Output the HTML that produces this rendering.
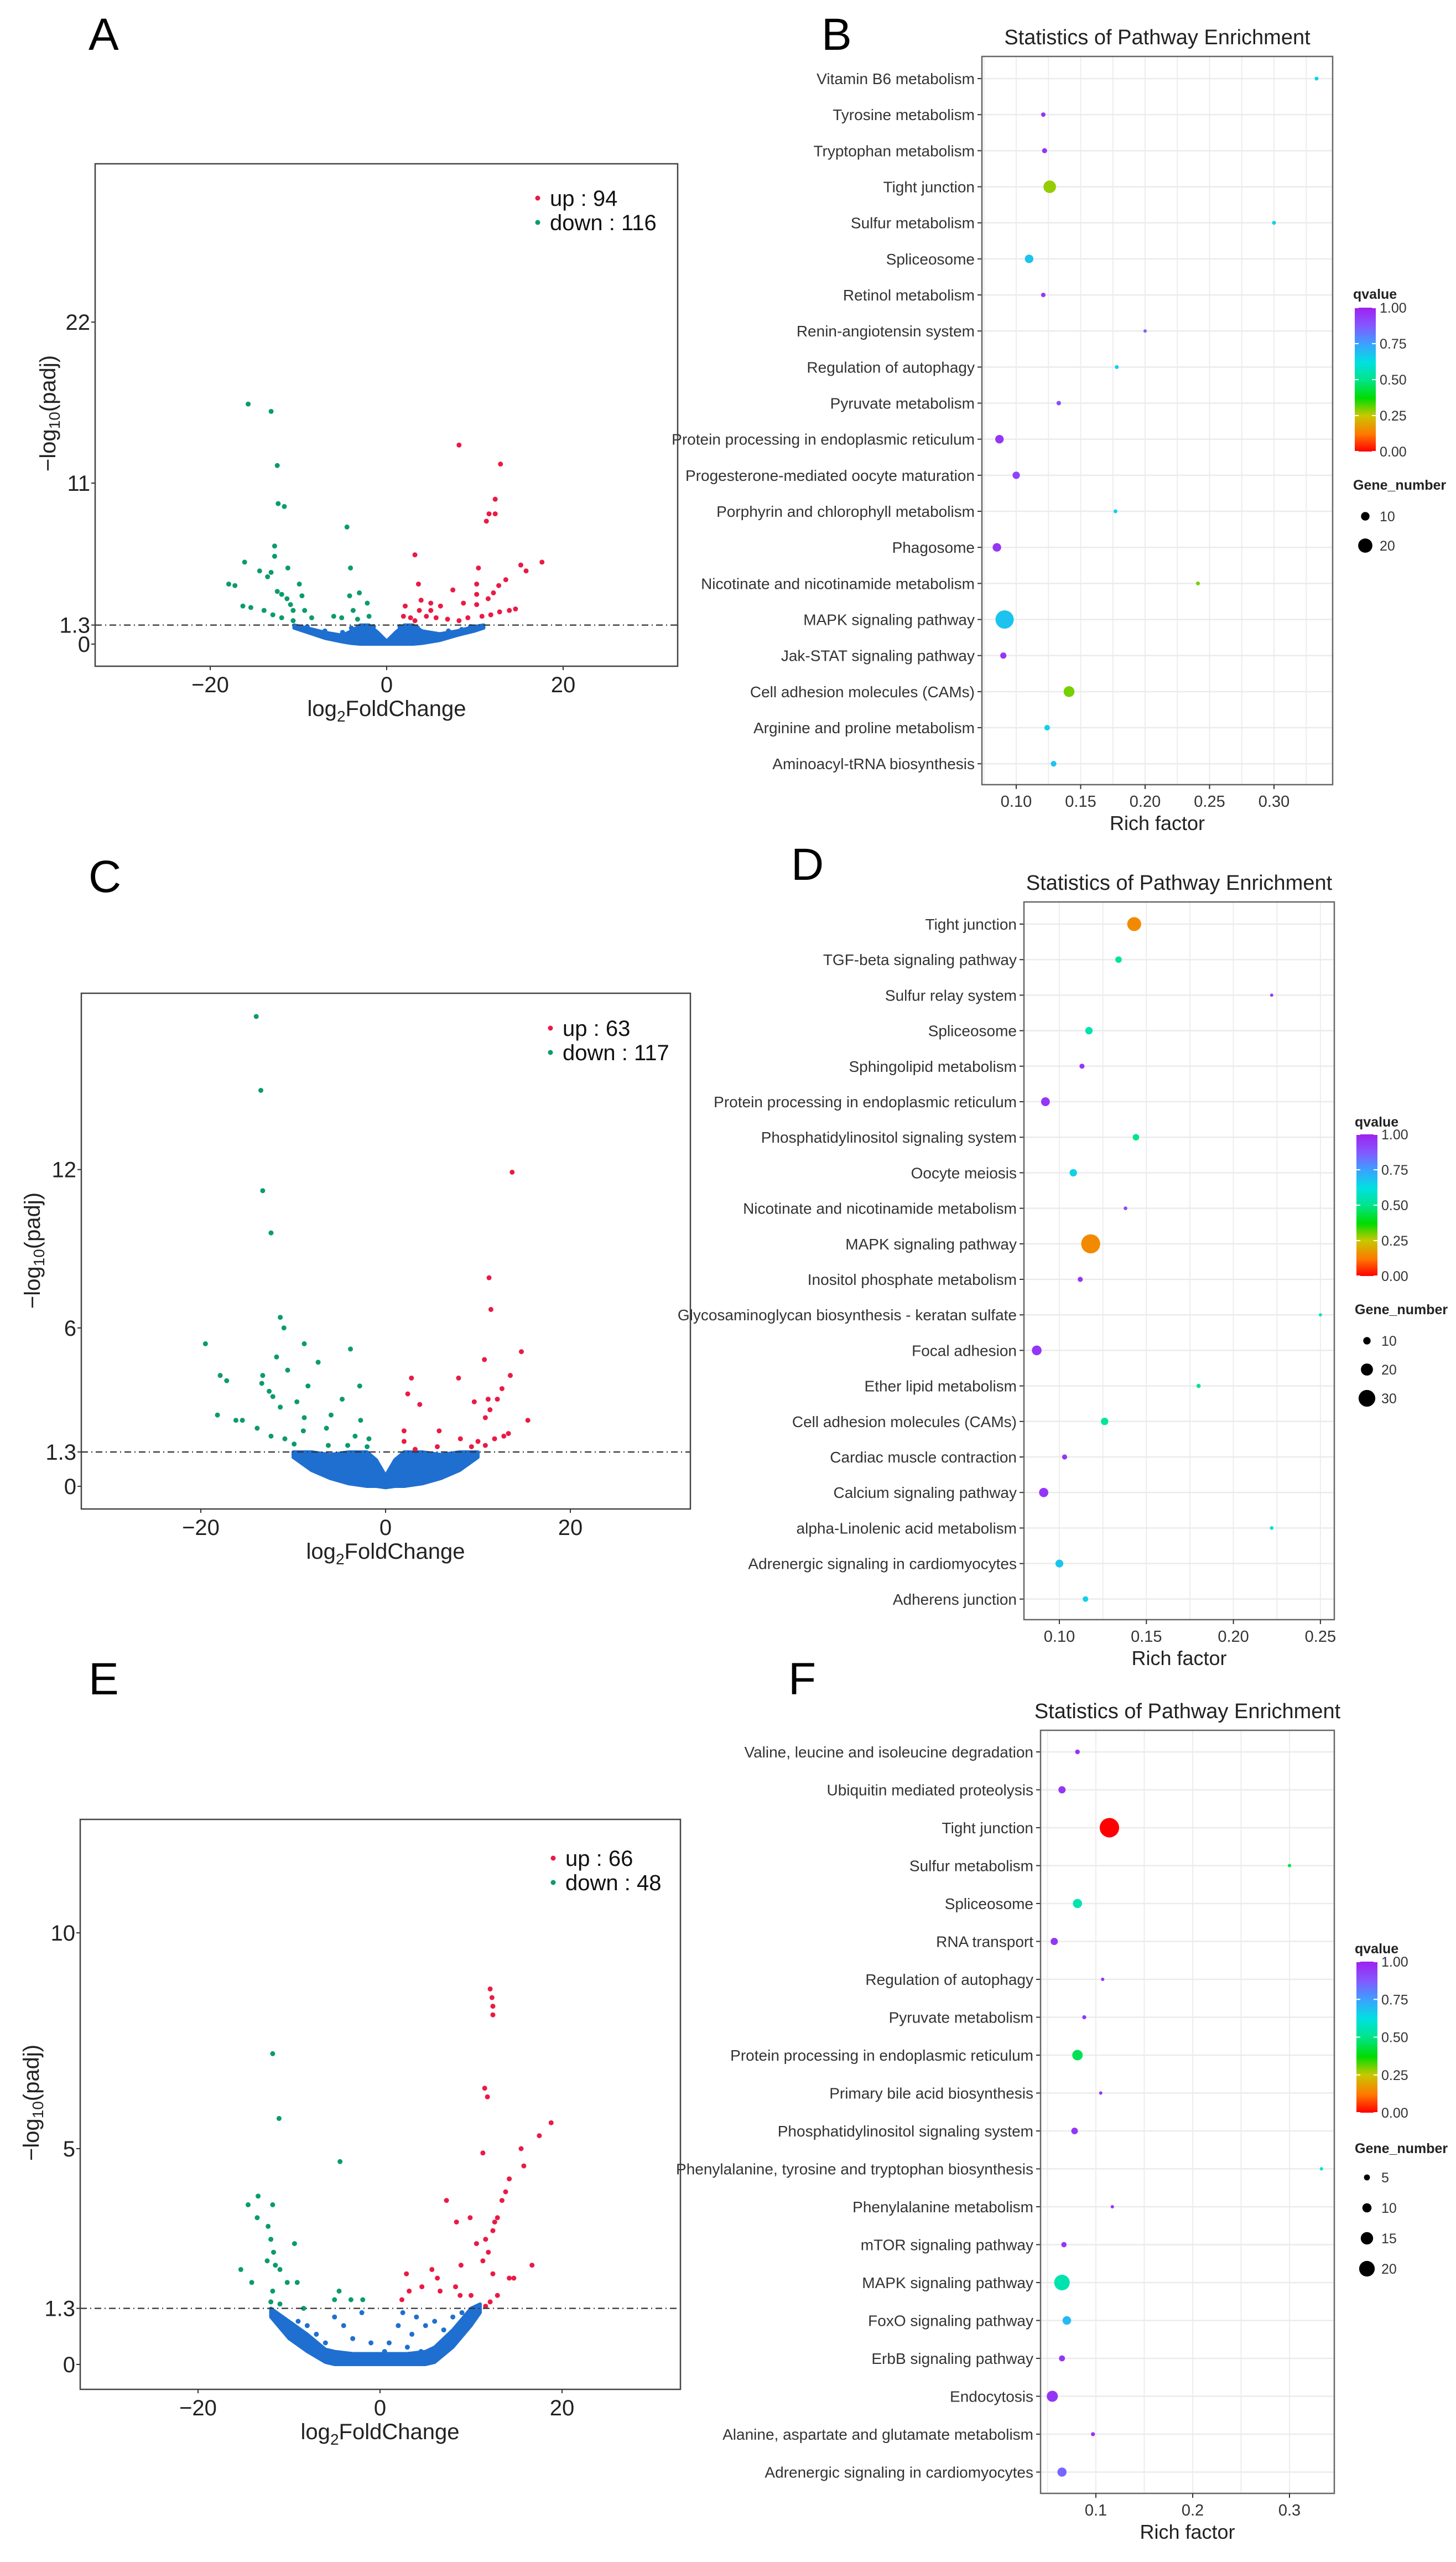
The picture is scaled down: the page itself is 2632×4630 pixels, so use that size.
<!DOCTYPE html>
<html><head><meta charset="utf-8">
<style>
html,body{margin:0;padding:0;background:#fff;}
svg{display:block;font-family:"Liberation Sans",Arial,sans-serif;}
</style></head>
<body>
<svg id="fig" width="2632" height="4630" viewBox="0 0 2632 4630" xmlns="http://www.w3.org/2000/svg">
<rect width="2632" height="4630" fill="#fff"/>
<g id="root"></g>
</svg>
<script>
// ---------------- Volcano data ----------------
const aUpX=[8.2,12.9,12.3,11.6,12.3,11.3,3.2,15.2,15.8,17.6,10.4,10.2,3.6,7.5,13.5,12.7,12.1,11.5,10.2,10.2,8.7,6.1,5.0,3.9,2.1,1.9,2.7,3.7,5.0,5.6,6.9,8.2,9.2,10.8,11.8,12.8,13.9,14.6,3.2,4.5];
const aUpY=[13.6,12.3,9.9,8.9,8.9,8.4,6.1,5.4,5.0,5.6,5.2,4.1,4.1,3.7,4.4,4.0,3.5,3.1,3.4,2.7,2.8,2.6,2.8,3.0,2.6,1.9,1.8,2.3,2.3,1.8,1.7,1.6,1.8,1.9,2.0,2.2,2.3,2.4,1.6,1.9];
const aDownX=[-15.7,-13.1,-12.4,-12.3,-11.6,-4.5,-12.7,-12.7,-16.1,-11.2,-14.4,-13.1,-13.5,-4.1,-17.9,-17.2,-9.9,-16.3,-15.4,-12.4,-11.9,-11.3,-10.9,-10.6,-9.6,-9.3,-8.5,-13.9,-12.9,-11.9,-10.6,-4.2,-3.1,-2.2,-3.8,-3.3,-6.0,-5.1,-2.0];
const aDownY=[16.4,15.9,12.2,9.6,9.4,8.0,6.7,6.0,5.6,5.2,5.0,4.9,4.6,5.2,4.1,4.0,4.1,2.6,2.5,3.6,3.4,3.1,2.7,2.3,3.3,2.3,1.8,2.3,2.0,1.8,1.6,3.3,3.5,2.8,2.3,1.7,1.9,1.8,1.9];
const aNsX=[-9,-7,-6,-5,-4,-3,-2.5,-1.5,1.5,2.5,3.5,4.5,6,7,8.5,9.5];
const aNsY=[1.2,0.9,0.6,0.8,1.1,1.2,0.9,1.2,1.2,0.9,1.1,0.7,0.6,0.9,1.0,1.2];
const aEnvX=[-10.5,-9,-7,-5,-4,-3,-2,-1,0,1,2,3,4,6,8,10,11];
const aEnvTop=[1.3,1.1,0.8,0.6,0.9,1.3,1.3,0.8,0.2,0.8,1.3,1.3,0.9,0.7,0.9,1.2,1.3];
const aEnvBot=[1.1,0.8,0.4,0.15,0.05,0,0,0,0,0,0,0,0.05,0.25,0.6,0.9,1.1];
const aYTicks=[0,1.3,11,22];
const aXTicks=[-20,0,20];

const cUpX=[13.7,11.2,11.4,10.7,14.7,13.5,7.9,2.8,2.4,3.7,12.6,12.1,11.1,9.6,10.8,11.3,15.4,2.0,5.8,8.1,10.0,11.8,12.8,2.0,3.2,5.6,9.3,10.8,13.3];
const cUpY=[11.9,7.9,6.7,4.8,5.1,4.2,4.1,4.1,3.5,3.1,3.7,3.3,3.3,3.2,2.6,2.9,2.5,2.1,2.1,1.8,1.7,1.8,1.9,1.7,1.4,1.5,1.5,1.55,2.0];
const cDownX=[-14.0,-13.5,-13.3,-12.4,-11.4,-11.0,-19.5,-8.8,-7.3,-3.8,-11.8,-17.9,-17.2,-13.3,-10.6,-13.4,-2.8,-8.4,-12.6,-12.2,-9.6,-4.7,-18.2,-16.2,-15.5,-11.4,-8.8,-5.9,-2.7,-13.9,-12.4,-10.9,-8.9,-6.4,-3.3,-1.8,-9.9,-6.2,-4.1,-2.0];
const cDownY=[17.8,15.0,11.2,9.6,6.4,6.0,5.4,5.4,4.7,5.2,4.9,4.2,4.0,4.2,4.4,3.9,3.8,3.8,3.6,3.4,3.2,3.3,2.7,2.5,2.5,3.0,2.6,2.7,2.5,2.2,1.9,1.8,2.1,2.2,1.9,1.8,1.6,1.55,1.55,1.5];
const cNsX=[-9,-7,-5.5,-4,-3,-2,2,3,4.5,6,7.5,9];
const cNsY=[1.1,0.8,0.6,0.9,0.7,1.1,1.0,0.8,0.9,0.6,0.9,1.1];
const cEnvX=[-10,-8,-6,-4,-3,-2,-1,0,1,2,3,4,6,8,10];
const cEnvTop=[1.3,1.3,1.2,1.3,1.3,1.3,1.0,0.4,1.0,1.3,1.3,1.3,1.2,1.3,1.3];
const cEnvBot=[1.1,0.6,0.3,0.1,0.05,0,0,-0.05,0,0,0.05,0.1,0.3,0.6,1.1];
const cYTicks=[0,1.3,6,12];
const cXTicks=[-20,0,20];

const eUpX=[12.1,12.3,12.4,12.4,11.5,11.8,18.8,17.5,15.5,11.3,15.8,14.2,13.8,7.3,13.4,12.9,12.6,8.4,9.9,12.4,10.6,11.6,11.9,11.3,8.9,16.7,14.7,14.2,12.4,2.9,5.7,6.3,4.6,3.2,2.4,6.6,8.3,8.8,10.0,12.9,12.1,11.6];
const eUpY=[8.7,8.5,8.3,8.1,6.4,6.2,5.6,5.3,5.0,4.9,4.6,4.3,4.0,3.8,3.8,3.4,3.3,3.3,3.4,3.1,2.8,2.9,2.6,2.4,2.3,2.3,2.0,2.0,2.1,2.1,2.2,2.0,1.8,1.7,1.5,1.7,1.8,1.6,1.6,1.6,1.45,1.35];
const eDownX=[-11.8,-11.1,-4.4,-13.4,-14.5,-11.8,-13.5,-12.3,-12.0,-9.4,-11.7,-11.5,-12.4,-11.0,-15.3,-14.1,-10.2,-9.1,-11.8,-4.5,-5.0,-3.2,-1.9,-12.0,-11.0,-8.4];
const eDownY=[7.2,5.7,4.7,3.9,3.7,3.7,3.4,3.2,2.9,2.8,2.6,2.3,2.4,2.2,2.2,1.9,1.9,1.9,1.7,1.7,1.5,1.5,1.5,1.45,1.4,1.3];
const eNsX=[-9,-7,-4,-3,-2,-1,1,2,2.5,3.5,4,5,6,7,8,9,-6,4.5,-8,-5,0.5,3];
const eNsY=[1.0,0.7,0.9,0.6,1.2,0.5,0.5,0.9,1.2,0.7,1.1,0.9,1.0,0.8,1.1,1.2,0.5,0.3,0.9,1.1,0.3,0.4];
const eEnvX=[-12,-10,-8,-6,-5,-3,0,3,5,6,8,10,11];
const eEnvTop=[1.3,1.0,0.7,0.35,0.3,0.25,0.25,0.25,0.3,0.4,0.8,1.3,1.4];
const eEnvBot=[1.1,0.6,0.3,0.05,0,0,0,0,0,0.05,0.4,0.9,1.2];
const eYTicks=[0,1.3,5,10];
const eXTicks=[-20,0,20];

// ---------------- Pathway data ----------------
const bTerms=["Vitamin B6 metabolism","Tyrosine metabolism","Tryptophan metabolism","Tight junction","Sulfur metabolism","Spliceosome","Retinol metabolism","Renin-angiotensin system","Regulation of autophagy","Pyruvate metabolism","Protein processing in endoplasmic reticulum","Progesterone-mediated oocyte maturation","Porphyrin and chlorophyll metabolism","Phagosome","Nicotinate and nicotinamide metabolism","MAPK signaling pathway","Jak-STAT signaling pathway","Cell adhesion molecules (CAMs)","Arginine and proline metabolism","Aminoacyl-tRNA biosynthesis"];
const bRich=[0.333,0.121,0.122,0.126,0.300,0.110,0.121,0.200,0.178,0.133,0.087,0.100,0.177,0.085,0.241,0.091,0.090,0.141,0.124,0.129];
const bQ=[0.65,0.95,0.95,0.28,0.65,0.68,0.95,0.85,0.65,0.9,0.95,0.92,0.65,0.95,0.3,0.68,0.95,0.3,0.65,0.68];
const bGenes=[2,3,4,17,2,10,3,1,2,3,10,8,2,10,2,27,6,14,5,5];
const bTickVals=[0.10,0.15,0.20,0.25,0.30];
const bTickLabels=["0.10","0.15","0.20","0.25","0.30"];
const bSizeLegend=[10,20];

const dTerms=["Tight junction","TGF-beta signaling pathway","Sulfur relay system","Spliceosome","Sphingolipid metabolism","Protein processing in endoplasmic reticulum","Phosphatidylinositol signaling system","Oocyte meiosis","Nicotinate and nicotinamide metabolism","MAPK signaling pathway","Inositol phosphate metabolism","Glycosaminoglycan biosynthesis - keratan sulfate","Focal adhesion","Ether lipid metabolism","Cell adhesion molecules (CAMs)","Cardiac muscle contraction","Calcium signaling pathway","alpha-Linolenic acid metabolism","Adrenergic signaling in cardiomyocytes","Adherens junction"];
const dRich=[0.143,0.134,0.222,0.117,0.113,0.092,0.144,0.108,0.138,0.118,0.112,0.250,0.087,0.180,0.126,0.103,0.091,0.222,0.100,0.115];
const dQ=[0.15,0.52,0.95,0.55,0.95,0.95,0.5,0.65,0.9,0.15,0.95,0.55,0.95,0.5,0.52,0.95,0.95,0.6,0.68,0.65];
const dGenes=[24,8,1,10,5,13,8,10,2,35,5,1,15,3,10,5,14,2,11,6];
const dTickVals=[0.10,0.15,0.20,0.25];
const dTickLabels=["0.10","0.15","0.20","0.25"];
const dSizeLegend=[10,20,30];

const fTerms=["Valine, leucine and isoleucine degradation","Ubiquitin mediated proteolysis","Tight junction","Sulfur metabolism","Spliceosome","RNA transport","Regulation of autophagy","Pyruvate metabolism","Protein processing in endoplasmic reticulum","Primary bile acid biosynthesis","Phosphatidylinositol signaling system","Phenylalanine, tyrosine and tryptophan biosynthesis","Phenylalanine metabolism","mTOR signaling pathway","MAPK signaling pathway","FoxO signaling pathway","ErbB signaling pathway","Endocytosis","Alanine, aspartate and glutamate metabolism","Adrenergic signaling in cardiomyocytes"];
const fRich=[0.081,0.065,0.114,0.300,0.081,0.057,0.107,0.088,0.081,0.105,0.078,0.333,0.117,0.067,0.065,0.070,0.065,0.055,0.097,0.065];
const fQ=[0.95,0.95,0.0,0.45,0.55,0.95,0.95,0.95,0.45,0.95,0.95,0.6,0.95,0.95,0.55,0.7,0.95,0.95,0.95,0.85];
const fGenes=[3,7,26,1,10,7,1,2,12,1,6,1,1,4,20,9,5,13,2,10];
const fTickVals=[0.1,0.2,0.3];
const fTickLabels=["0.1","0.2","0.3"];
const fSizeLegend=[5,10,15,20];

const qLegendLabels=["1.00","0.75","0.50","0.25","0.00"];
const qLegendVals=[1,0.75,0.5,0.25,0];

// ---------------- helpers ----------------
const NS="http://www.w3.org/2000/svg";
const root=document.getElementById('root');
function mk(tag,attrs,parent){const e=document.createElementNS(NS,tag);for(const k in attrs)e.setAttribute(k,attrs[k]);(parent||root).appendChild(e);return e;}
function txt(str,attrs,parent){const e=mk('text',attrs,parent);e.textContent=str;return e;}
const qStops=[[0,[255,0,0]],[0.12,[255,120,0]],[0.25,[200,200,0]],[0.37,[0,220,0]],[0.5,[0,228,140]],[0.62,[0,225,225]],[0.75,[60,160,255]],[0.87,[130,90,255]],[1,[160,32,240]]];
function qColor(q){for(let i=1;i<qStops.length;i++){if(q<=qStops[i][0]){const a=qStops[i-1],b=qStops[i];const t=(q-a[0])/(b[0]-a[0]);const c=a[1].map((v,j)=>Math.round(v+(b[1][j]-v)*t));return `rgb(${c[0]},${c[1]},${c[2]})`;}}return 'rgb(160,32,240)';}

// panel letters
[["A",160,90],["B",1485,90],["C",160,1612],["D",1430,1590],["E",160,3062],["F",1425,3062]].forEach(p=>{
  const t=txt(p[0],{x:p[1],y:p[2],'font-size':82,fill:'#000'});
  
  
});

// ---------------- volcano ----------------
function volcano(id,cfg,upX,upY,downX,downY,nsX,nsY,envX,envTop,envBot,yTicks,xTicks,upN,downN){
  const g=mk('g',{});
  
  
  const X=v=>cfg.x0+v*cfg.sx, Y=v=>cfg.y0-v*cfg.sy;
  const [L,T,R,B]=cfg.box;
  const clipId='clip'+id;
  const cp=mk('clipPath',{id:clipId},g);mk('rect',{x:L,y:T,width:R-L,height:B-T},cp);
  const pg=mk('g',{'clip-path':`url(#${clipId})`},g);
  let pts=envX.map((x,i)=>X(x)+','+Y(envTop[i]));
  for(let i=envX.length-1;i>=0;i--)pts.push(X(envX[i])+','+Y(envBot[i]));
  const poly=mk('polygon',{points:pts.join(' '),fill:'#1f6fd1',stroke:'#1f6fd1','stroke-width':6,'stroke-linejoin':'round'},pg);
  
  
  nsX.forEach((x,i)=>{const c=mk('circle',{cx:X(x),cy:Y(nsY[i]),r:4.5,fill:'#1f6fd1'},pg);
    
    });
  downX.forEach((x,i)=>{const c=mk('circle',{cx:X(x),cy:Y(downY[i]),r:4.5,fill:'#0a9b6e'},pg);
    
    });
  upX.forEach((x,i)=>{const c=mk('circle',{cx:X(x),cy:Y(upY[i]),r:4.5,fill:'#ea1a44'},pg);
    
    });
  const th=mk('line',{x1:L,x2:R,y1:Y(1.3),y2:Y(1.3),stroke:'#333','stroke-width':2.2,'stroke-dasharray':'12,6,2,6'},g);
  
  
  const box=mk('rect',{x:L,y:T,width:R-L,height:B-T,fill:'none',stroke:'#444','stroke-width':2.5},g);
  
  
  yTicks.forEach(v=>{mk('line',{x1:L-7,x2:L,y1:Y(v),y2:Y(v),stroke:'#333','stroke-width':2},g);
    const t=txt(String(v),{x:L-9,y:Y(v)+14,'text-anchor':'end','font-size':40,fill:'#222'},g);
    
    });
  xTicks.forEach(v=>{mk('line',{x1:X(v),x2:X(v),y1:B,y2:B+7,stroke:'#333','stroke-width':2},g);
    const t=txt(v<0?'\u2212'+Math.abs(v):String(v),{x:X(v),y:B+47,'text-anchor':'middle','font-size':40,fill:'#222'},g);
    
    });
  const xl=txt('',{x:X(0),y:B+90,'text-anchor':'middle','font-size':40,fill:'#222'},g);
  
  
  xl.innerHTML='log<tspan font-size="28" dy="10">2</tspan><tspan dy="-10">FoldChange</tspan>';
  const yl=txt('',{transform:`translate(${cfg.ytx},${cfg.yty}) rotate(-90)`,'text-anchor':'middle','font-size':40,fill:'#222'},g);
  
  
  yl.innerHTML='\u2212log<tspan font-size="28" dy="8">10</tspan><tspan dy="-8">(padj)</tspan>';
  const lg=mk('g',{},g);
  
  
  mk('circle',{cx:cfg.lx,cy:cfg.ly,r:4.5,fill:'#ea1a44'},lg);
  txt('up : '+upN,{x:cfg.lx+22,y:cfg.ly+14,'font-size':40,fill:'#111'},lg);
  mk('circle',{cx:cfg.lx,cy:cfg.ly+44,r:4.5,fill:'#0a9b6e'},lg);
  txt('down : '+downN,{x:cfg.lx+22,y:cfg.ly+58,'font-size':40,fill:'#111'},lg);
}
volcano('a',{box:[172,296,1225,1204],x0:699,sx:15.95,y0:1164,sy:26.45,ytx:100,yty:747,lx:972,ly:358},aUpX,aUpY,aDownX,aDownY,aNsX,aNsY,aEnvX,aEnvTop,aEnvBot,aYTicks,aXTicks,94,116);
volcano('c',{box:[147,1795,1248,2727],x0:697,sx:16.7,y0:2686,sy:47.7,ytx:72,yty:2260,lx:995,ly:1858},cUpX,cUpY,cDownX,cDownY,cNsX,cNsY,cEnvX,cEnvTop,cEnvBot,cYTicks,cXTicks,63,117);
volcano('e',{box:[145,3288,1230,4318],x0:687,sx:16.45,y0:4273,sy:78,ytx:70,yty:3800,lx:1000,ly:3358},eUpX,eUpY,eDownX,eDownY,eNsX,eNsY,eEnvX,eEnvTop,eEnvBot,eYTicks,eXTicks,66,48);

// ---------------- pathway ----------------
function pathway(id,cfg,terms,rich,q,genes,tickVals,tickLabels,sizeLegend){
  const g=mk('g',{});
  
  
  const X=v=>cfg.x0+(v-cfg.r0)*cfg.sx, Yr=i=>cfg.yr0+i*cfg.dy;
  const Rs=n=>cfg.ra+cfg.rb*n;
  const [L,T,R,B]=cfg.box;
  mk('rect',{x:L,y:T,width:R-L,height:B-T,fill:'#fff'},g);
  const step=tickVals[1]-tickVals[0];
  for(let v=tickVals[0]-step/2;v<=tickVals[tickVals.length-1]+step;v+=step/2){
    const px=X(v); if(px<=L||px>=R)continue;
    mk('line',{x1:px,x2:px,y1:T,y2:B,stroke:'#ededed','stroke-width':2},g);}
  terms.forEach((t,i)=>{mk('line',{x1:L,x2:R,y1:Yr(i),y2:Yr(i),stroke:'#ebebeb','stroke-width':2.5},g);});
  terms.forEach((t,i)=>{
    const c=mk('circle',{cx:X(rich[i]),cy:Yr(i),r:Rs(genes[i]),fill:qColor(q[i])},g);
    
    
    mk('line',{x1:L-8,x2:L,y1:Yr(i),y2:Yr(i),stroke:'#333','stroke-width':2},g);
    const l=txt(t,{x:L-13,y:Yr(i)+10,'text-anchor':'end','font-size':cfg.fs,fill:'#333'},g);
    
    
  });
  const box=mk('rect',{x:L,y:T,width:R-L,height:B-T,fill:'none',stroke:'#666','stroke-width':2.5},g);
  
  
  tickVals.forEach((v,i)=>{mk('line',{x1:X(v),x2:X(v),y1:B,y2:B+8,stroke:'#333','stroke-width':2},g);
    const t=txt(tickLabels[i],{x:X(v),y:B+40,'text-anchor':'middle','font-size':29,fill:'#333'},g);
    
    });
  const xt=txt('Rich factor',{x:(L+R)/2,y:B+82,'text-anchor':'middle','font-size':36,fill:'#222'},g);
  
  
  const ti=txt('Statistics of Pathway Enrichment',{x:(L+R)/2,y:T-22,'text-anchor':'middle','font-size':38,fill:'#222'},g);
  
  
  const lg=mk('g',{},g);
  
  
  txt('qvalue',{x:cfg.lgx,y:cfg.qy,'font-size':25,'font-weight':'bold',fill:'#222'},lg);
  const gid='grad'+id;
  const grd=mk('linearGradient',{id:gid,x1:0,y1:1,x2:0,y2:0},lg);
  qStops.forEach(s=>mk('stop',{offset:s[0],'stop-color':qColor(s[0])},grd));
  const bt=cfg.barT,bb=cfg.barB;
  mk('rect',{x:cfg.lgx+3,y:bt,width:38,height:bb-bt,fill:`url(#${gid})`},lg);
  qLegendVals.forEach((v,i)=>{const yy=bb-v*(bb-bt);
    mk('line',{x1:cfg.lgx+3,x2:cfg.lgx+10,y1:yy,y2:yy,stroke:'#fff','stroke-width':2},lg);
    mk('line',{x1:cfg.lgx+34,x2:cfg.lgx+41,y1:yy,y2:yy,stroke:'#fff','stroke-width':2},lg);
    txt(qLegendLabels[i],{x:cfg.lgx+48,y:yy+9,'font-size':25,fill:'#333'},lg);});
  const sg=mk('g',{},g);
  
  
  txt('Gene_number',{x:cfg.lgx,y:cfg.gy,'font-size':25,'font-weight':'bold',fill:'#222'},sg);
  sizeLegend.forEach((n,i)=>{const yy=cfg.gy+cfg.gd0+i*cfg.gd;
    mk('circle',{cx:cfg.lgx+22,cy:yy,r:Rs(n),fill:'#000'},sg);
    txt(String(n),{x:cfg.lgx+48,y:yy+9,'font-size':25,fill:'#333'},sg);});
}
pathway('b',{box:[1775,102,2409,1418],x0:1837,r0:0.10,sx:2330,yr0:142,dy:65.17,ra:2.5,rb:0.52,fs:28,lgx:2446,qy:540,barT:556,barB:816,gy:885,gd0:48,gd:53},bTerms,bRich,bQ,bGenes,bTickVals,bTickLabels,bSizeLegend);
pathway('d',{box:[1851,1630,2412,2927],x0:1915,r0:0.10,sx:3146,yr0:1670,dy:64.2,ra:2.5,rb:0.42,fs:28,lgx:2449,qy:2036,barT:2050,barB:2306,gy:2375,gd0:48,gd:52},dTerms,dRich,dQ,dGenes,dTickVals,dTickLabels,dSizeLegend);
pathway('f',{box:[1881,3127,2412,4506],x0:1981,r0:0.1,sx:1750,yr0:3166,dy:68.5,ra:2.5,rb:0.58,fs:28,lgx:2449,qy:3530,barT:3545,barB:3818,gy:3891,gd0:44,gd:55},fTerms,fRich,fQ,fGenes,fTickVals,fTickLabels,fSizeLegend);
</script>
</body></html>
